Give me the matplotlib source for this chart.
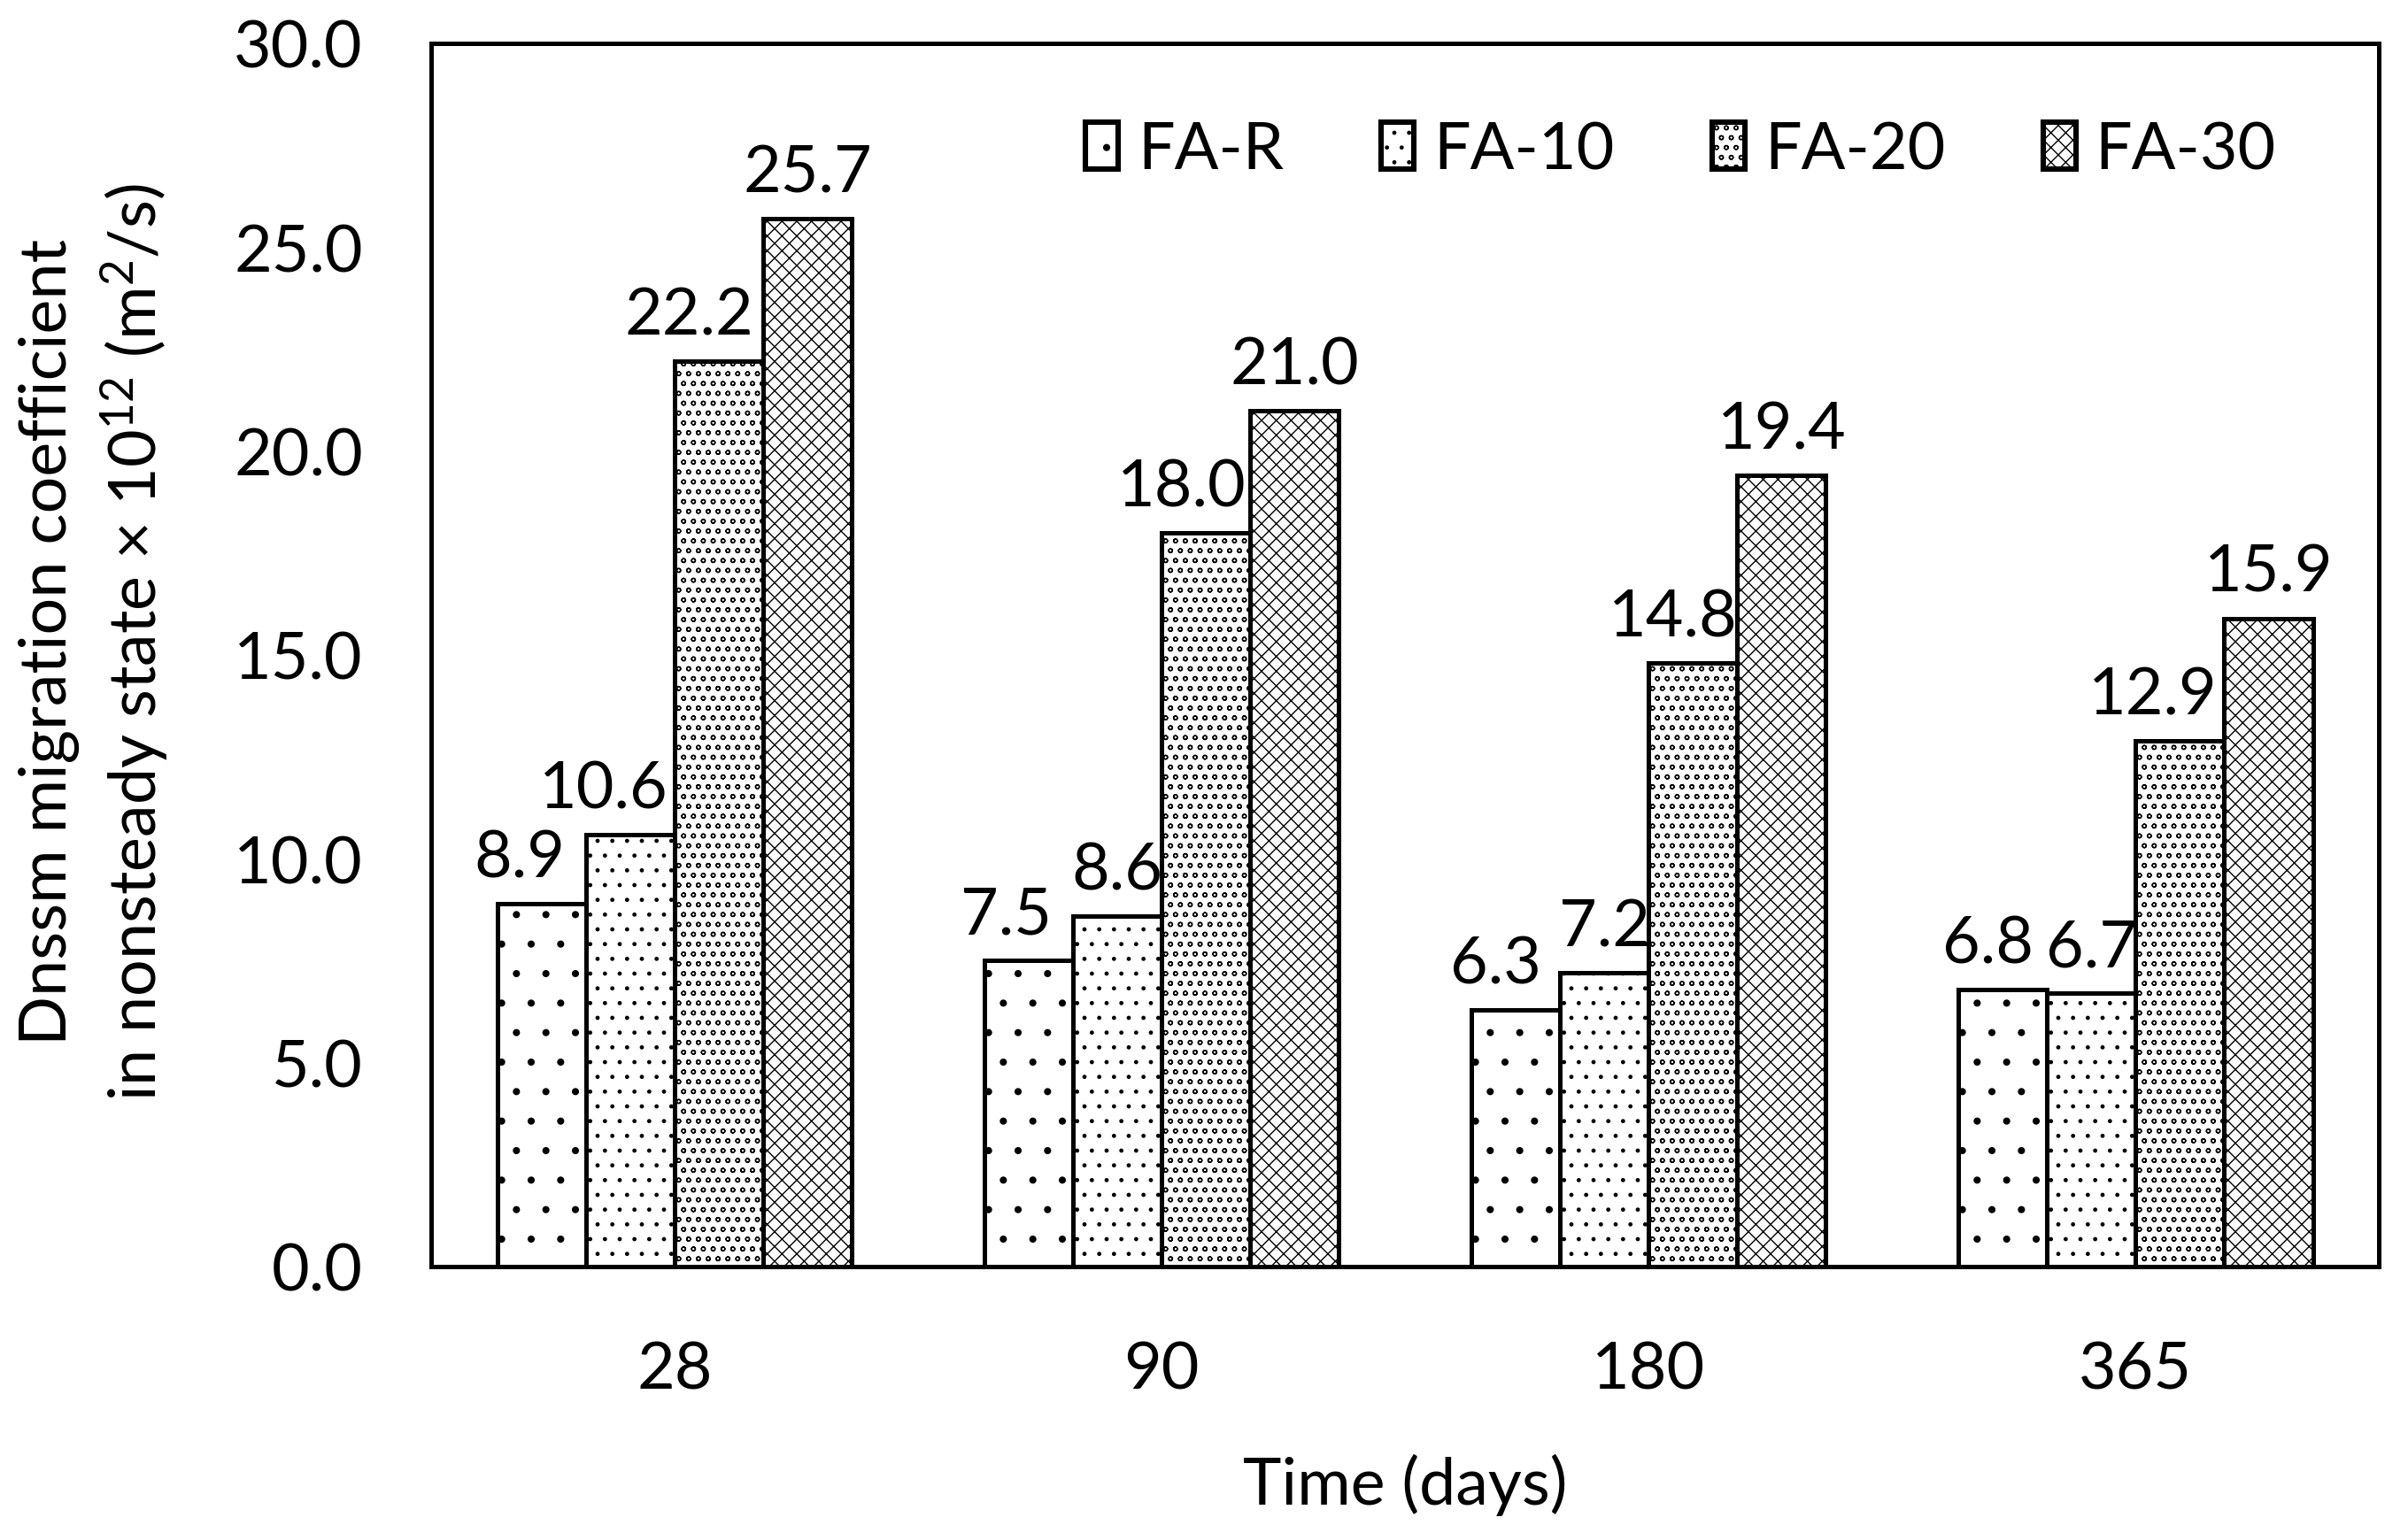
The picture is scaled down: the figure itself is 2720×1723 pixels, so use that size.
import matplotlib
matplotlib.use("Agg")
import matplotlib.pyplot as plt
import numpy as np

# values
days = ["28", "90", "180", "365"]
mixes = ["FA-R", "FA-10", "FA-20", "FA-30"]
fa_r = [8.9, 7.5, 6.3, 6.8]
fa_10 = [10.6, 8.6, 7.2, 6.7]
fa_20 = [22.2, 18.0, 14.8, 12.9]
fa_30 = [25.7, 21.0, 19.4, 15.9]

series = [fa_r, fa_10, fa_20, fa_30]
hatches = [".", "..", "ooo", "xxxx"]
# sideways nudge of the value labels (points), as in the original
nudges = [[-9, -9, -8, -6],
          [-11, 0, 0, 0],
          [-12, -10, -8, -11],
          [0, 0, 0, 0]]

plt.rcParams["font.family"] = ["Lato", "DejaVu Sans"]
plt.rcParams["mathtext.fontset"] = "custom"
plt.rcParams["mathtext.rm"] = "Lato"
plt.rcParams["mathtext.default"] = "regular"
plt.rcParams["hatch.linewidth"] = 0.5
plt.rcParams["hatch.color"] = "black"

fs = 26.5
fig = plt.figure(figsize=(13.6, 8.62), dpi=200)
ax = fig.add_axes([0.179, 0.1694, 0.809, 0.8016])

x = np.arange(len(days))
w = 0.182
for i, vals in enumerate(series):
    pos = x + (i - 1.5) * w
    ax.bar(pos, vals, w, color="white", edgecolor="black", linewidth=1.8,
           hatch=hatches[i], label=mixes[i], zorder=2)
    for j, v in enumerate(vals):
        ax.annotate("%.1f" % v, (pos[j], v), xytext=(nudges[i][j], 11),
                    textcoords="offset points", ha="center", va="baseline",
                    fontsize=fs)

ax.set_xlim(-0.5, 3.5)
ax.set_ylim(0, 30)
ax.set_yticks(np.arange(0, 30.1, 5))
ax.set_yticklabels(["%.1f" % t for t in np.arange(0, 30.1, 5)])
ax.set_xticks(x)
ax.set_xticklabels(days)
ax.tick_params(axis="y", length=0, pad=27.7, labelsize=fs)
ax.tick_params(axis="x", length=0, pad=30, labelsize=fs)
for s in ax.spines.values():
    s.set_linewidth(1.8)

ax.set_xlabel("Time (days)", fontsize=fs, va="center")
ax.xaxis.set_label_coords(0.5, -0.178)
ax.set_ylabel("Dnssm migration coefficient\nin nonsteady state × 10$^{12}$ (m$^{2}$/s)",
              fontsize=fs, ha="center", va="center", linespacing=1.34)
ax.yaxis.set_label_coords(-0.1727, 0.511)

leg = fig.legend(loc="center", bbox_to_anchor=(0.698, 0.901), ncol=4, frameon=False,
                 fontsize=fs, handlelength=0.5, handleheight=0.75,
                 handletextpad=0.3, columnspacing=1.5)
for p in leg.get_patches():
    p.set_linewidth(2.2)

plt.savefig("out.png", dpi=200)
